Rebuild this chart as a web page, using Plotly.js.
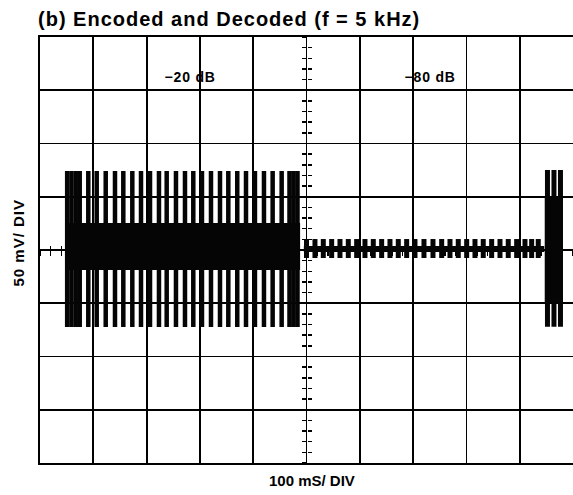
<!DOCTYPE html>
<html><head><meta charset="utf-8">
<script src="https://cdn.plot.ly/plotly-3.0.1.min.js"></script>
<style>html,body{margin:0;padding:0;background:#fff;} #chart{width:573px;height:495px;}</style>
</head><body><div id="chart"></div>
<script>
// ---- data (time in ms, voltage in mV) ----
const chartTitle = '(b) Encoded and Decoded (f = 5 kHz)';
const xTitle = '100 mS/ DIV';
const yTitle = '50 mV/ DIV';
const dbLabels = ['\u221220 dB', '\u221280 dB'];

// time positions of the visible (aliased) strokes in each segment
const burstTimes = [51, 59, 67, 74.5, 90.6, 106.4, 123.3, 140.7, 156.3, 173.2, 189.5, 206.4, 223.2, 237.7, 255.1,
  272.0, 287.6, 303.9, 320.8, 337.7, 353.3, 370.1, 386.5, 403.3, 420.2, 436.5, 453.4, 468.1, 475.6, 483.1];
const toneTimes = [500.0, 515.9, 531.5, 547.2, 562.8, 578.4, 594.1, 609.7, 625.3, 641.0, 656.6, 672.2, 687.9, 703.5,
  720.4, 737.3, 753.6, 769.2, 784.7, 800.5, 816.1, 831.6, 847.4, 863.0, 878.5, 894.3, 909.9, 922.4, 934.8];
const returnTimes = [952.1, 964.3, 976.5];

// per segment: stroke peak / trough, and the solid core of the trace
const peakHigh = [74.1, 10.3, 75.1];
const peakLow = [-72.3, -7.5, -72.0];
const coreStart = [47, 495, 947];
const coreEnd = [488, 946, 981];
const coreHigh = [25.3, 3.8, 50];
const coreLow = [-18.8, -1.9, -50];

// ---- build traces ----
const segTimes = [burstTimes, toneTimes, returnTimes];
const strokeWidths = [4.5, 5, 5];
const ink = '#050505';
const traces = [];
segTimes.forEach((times, i) => {
  const x = [], y = [];
  times.forEach(t => { x.push(t, t, null); y.push(peakHigh[i], peakLow[i], null); });
  traces.push({type: 'scatter', mode: 'lines', x, y, line: {color: ink, width: strokeWidths[i]},
    hoverinfo: 'skip', showlegend: false});
  traces.push({type: 'scatter', mode: 'lines', fill: 'toself', fillcolor: ink,
    x: [coreStart[i], coreEnd[i], coreEnd[i], coreStart[i], coreStart[i]],
    y: [coreHigh[i], coreHigh[i], coreLow[i], coreLow[i], coreHigh[i]],
    line: {color: ink, width: 0}, hoverinfo: 'skip', showlegend: false});
});
// empty traces so the centre graticule axes exist
traces.push({type: 'scatter', x: [], y: [], xaxis: 'x', yaxis: 'y2', showlegend: false});
traces.push({type: 'scatter', x: [], y: [], xaxis: 'x', yaxis: 'y3', showlegend: false});
traces.push({type: 'scatter', x: [], y: [], xaxis: 'x2', yaxis: 'y', showlegend: false});
traces.push({type: 'scatter', x: [], y: [], xaxis: 'x3', yaxis: 'y', showlegend: false});

const baseAx = {showticklabels: false, zeroline: false, fixedrange: true, ticks: ''};
const centreY = (tk) => Object.assign({}, baseAx, {overlaying: 'y', anchor: 'free', position: 0.5,
  range: [-200, 200], dtick: 10, tick0: 0, ticks: tk, ticklen: 4.5, tickwidth: 1.5, tickcolor: '#000',
  showgrid: false, showline: false, layer: 'below traces'});
const centreX = (tk) => Object.assign({}, baseAx, {overlaying: 'x', anchor: 'free', position: 0.5,
  range: [0, 1000], dtick: 20, tick0: 0, ticks: tk, ticklen: 4.5, tickwidth: 1.5, tickcolor: '#000',
  showgrid: false, showline: false, layer: 'below traces'});

const layout = {
  width: 573, height: 495,
  margin: {l: 40, r: 0, t: 37, b: 32},
  paper_bgcolor: '#fff', plot_bgcolor: '#fff',
  showlegend: false,
  title: {text: chartTitle, x: 38 / 573, xref: 'container', xanchor: 'left',
    y: 1 - 19 / 495, yref: 'container', yanchor: 'middle',
    font: {family: 'Liberation Sans, Arial, sans-serif', size: 20, color: '#000', weight: 'bold'}},
  xaxis: Object.assign({}, baseAx, {range: [0, 1000], dtick: 100, tick0: 0, showgrid: true,
    gridcolor: '#000', gridwidth: 1.8, showline: true, mirror: true, linecolor: '#000', linewidth: 2}),
  yaxis: Object.assign({}, baseAx, {range: [-200, 200], dtick: 50, tick0: 0, showgrid: true,
    gridcolor: '#000', gridwidth: 1.8, showline: true, mirror: true, linecolor: '#000', linewidth: 2}),
  yaxis2: centreY('outside'),
  yaxis3: centreY('inside'),
  xaxis2: centreX('outside'),
  xaxis3: centreX('inside'),
  annotations: [
    {text: dbLabels[0], x: 281.4, y: 162.4, xref: 'x', yref: 'y', showarrow: false,
      font: {family: 'Liberation Sans, Arial, sans-serif', size: 14, color: '#000', weight: 'bold'}},
    {text: dbLabels[1], x: 731.7, y: 162.4, xref: 'x', yref: 'y', showarrow: false,
      font: {family: 'Liberation Sans, Arial, sans-serif', size: 14, color: '#000', weight: 'bold'}},
    {text: xTitle, x: 0.511, y: 0, xref: 'paper', yref: 'paper', yanchor: 'middle', xanchor: 'center',
      yshift: -17.5, showarrow: false,
      font: {family: 'Liberation Sans, Arial, sans-serif', size: 15, color: '#000', weight: 'bold'}},
    {text: yTitle, x: 0, y: 0.5176, xref: 'paper', yref: 'paper', xanchor: 'center', yanchor: 'middle',
      xshift: -21, textangle: -90, showarrow: false,
      font: {family: 'Liberation Sans, Arial, sans-serif', size: 15, color: '#000', weight: 'bold'}}
  ]
};

Plotly.newPlot('chart', traces, layout, {staticPlot: true, displayModeBar: false}).then(gd => {
  const ann = gd.querySelectorAll('.annotation-text');
  const spacing = ['0.8px', '0.8px', '0px', '1px'];
  ann.forEach((el, i) => { el.style.letterSpacing = spacing[i] || '0px'; });
  const t = gd.querySelector('.gtitle');
  if (t) t.style.letterSpacing = '1px';
});
</script>
</body></html>
